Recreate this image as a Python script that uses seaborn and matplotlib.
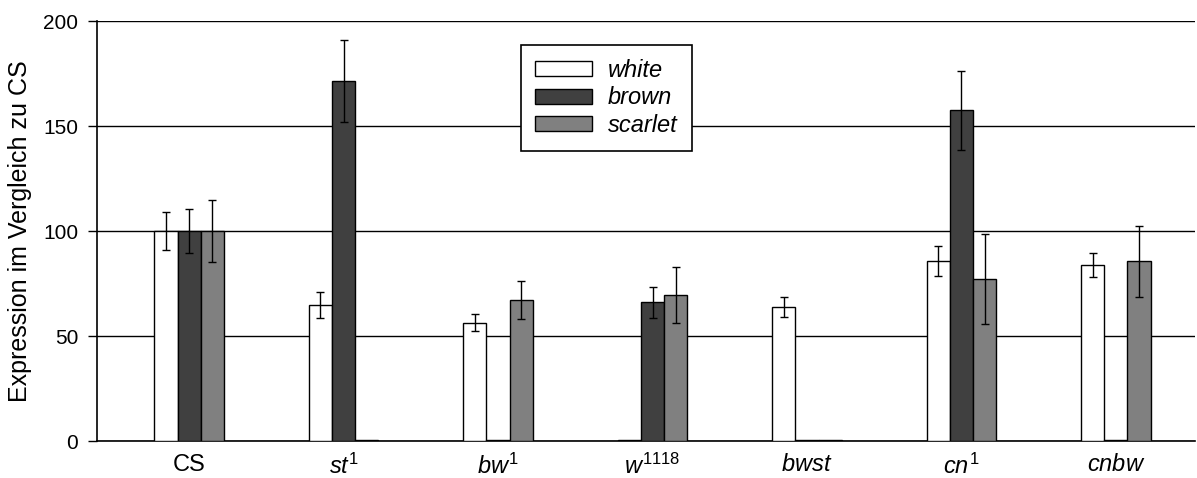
import numpy as np
import pandas as pd
import matplotlib
matplotlib.use("Agg")
import matplotlib.pyplot as plt
import seaborn as sns

# Strains on the x axis (mathtext for italic names with superscripts)
strains = ["CS", r"$\mathit{st}^{\mathit{1}}$", r"$\mathit{bw}^{\mathit{1}}$",
           r"$\mathit{w}^{\mathit{1118}}$", r"$\mathit{bwst}$",
           r"$\mathit{cn}^{\mathit{1}}$", r"$\mathit{cnbw}$"]
genes = ["white", "brown", "scarlet"]

# Relative expression (% of CS) and standard errors per gene
white_vals = [100.0, 64.6, 56.3, 0.3, 63.8, 85.6, 83.8]
white_err = [9.0, 6.2, 4.0, 0.0, 4.8, 7.2, 5.5]
brown_vals = [100.0, 171.4, 0.3, 66.0, 0.3, 157.5, 0.3]
brown_err = [10.5, 19.6, 0.0, 7.3, 0.0, 18.7, 0.0]
scarlet_vals = [100.0, 0.5, 67.1, 69.5, 0.3, 77.3, 85.6]
scarlet_err = [14.7, 0.0, 9.2, 13.4, 0.0, 21.5, 16.8]

yticks = [0, 50, 100, 150, 200]
colors = ["#FFFFFF", "#404040", "#808080"]

values = {"white": white_vals, "brown": brown_vals, "scarlet": scarlet_vals}
errors = {"white": white_err, "brown": brown_err, "scarlet": scarlet_err}

df = pd.DataFrame({
    "strain": strains * 3,
    "gene": [g for g in genes for _ in strains],
    "expr": white_vals + brown_vals + scarlet_vals,
})

sns.set_style("white")
plt.rcParams["font.family"] = ["Liberation Sans", "DejaVu Sans"]
plt.rcParams["mathtext.fontset"] = "custom"
plt.rcParams["mathtext.rm"] = "Liberation Sans"
plt.rcParams["mathtext.it"] = "Liberation Sans:italic"
plt.rcParams["text.color"] = "black"
plt.rcParams["axes.labelcolor"] = "black"
plt.rcParams["xtick.color"] = "black"
plt.rcParams["ytick.color"] = "black"

fig = plt.figure(figsize=(11.97, 4.78), dpi=100)
ax = fig.add_axes([0.081, 0.0774, 0.9173, 0.8786])

sns.barplot(data=df, x="strain", y="expr", hue="gene", order=strains,
            hue_order=genes, palette=colors, width=0.45, gap=0,
            edgecolor="black", linewidth=1.0, errorbar=None, saturation=1,
            ax=ax, zorder=3)

# Error bars on top of each bar
for gene, container in zip(genes, ax.containers):
    for patch, val, err in zip(container.patches, values[gene], errors[gene]):
        if err > 0:
            cx = patch.get_x() + patch.get_width() / 2
            ax.errorbar(cx, val, yerr=err, fmt="none", ecolor="black",
                        elinewidth=1.0, capsize=2.6, capthick=1.0, zorder=4)

ax.set_ylim(0, 200)
ax.set_xlim(-0.597, 6.512)
ax.set_yticks(yticks)
ax.yaxis.grid(True, color="black", linewidth=1.0)
ax.xaxis.grid(False)
ax.set_axisbelow(True)

for side in ["top", "right"]:
    ax.spines[side].set_visible(False)
for side in ["left", "bottom"]:
    ax.spines[side].set_color("black")
    ax.spines[side].set_linewidth(1.2)

ax.tick_params(axis="y", which="both", left=True, length=6.5, width=1.0,
               color="black", labelcolor="black", labelsize=15, pad=7)
ax.tick_params(axis="x", bottom=False, labelcolor="black", labelsize=17, pad=6)
ax.set_xlabel("")
ax.set_ylabel("Expression im Vergleich zu CS", fontsize=18, labelpad=8,
              color="black")

handles, labels = ax.get_legend_handles_labels()
leg = ax.legend(handles, labels, loc="upper left",
                bbox_to_anchor=(0.386, 0.943), frameon=True, fancybox=False,
                edgecolor="black", framealpha=1,
                prop={"style": "italic", "size": 17, "family": "Liberation Sans"},
                handlelength=2.4, handleheight=0.6, handletextpad=0.7,
                labelspacing=0.18, borderpad=0.6, borderaxespad=0)
leg.get_frame().set_linewidth(1.2)
for t in leg.get_texts():
    t.set_color("black")

fig.savefig("out.png", dpi=100)
